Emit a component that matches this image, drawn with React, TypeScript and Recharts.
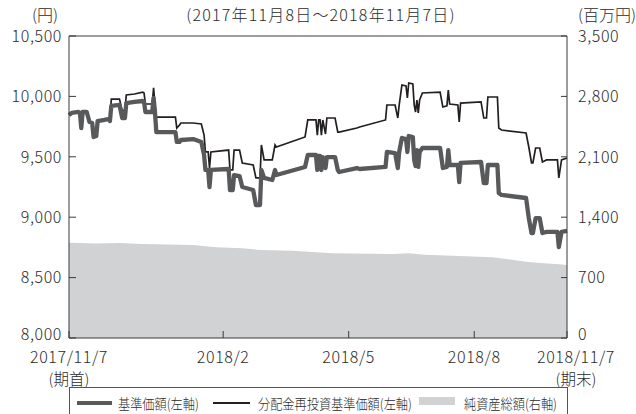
import React from 'react';
import { ComposedChart, Line, Area, XAxis, YAxis, ReferenceLine } from 'recharts';

// trading-day positions (calendar days since 2017/11/7)
const days = [
  0, 2, 7, 8, 9, 10, 13, 15, 17, 18,
  20, 21, 26, 29, 30, 31, 37, 39, 41, 42,
  48, 54, 55, 56, 61, 62, 63, 64, 78, 79,
  81, 82, 91, 97, 99, 100, 102, 103, 104, 117,
  118, 120, 121, 125, 127, 135, 137, 140, 141, 143,
  149, 151, 152, 173, 175, 181, 182, 183, 184, 185,
  186, 188, 189, 195, 197, 198, 211, 213, 232, 233,
  239, 241, 242, 244, 247, 248, 249, 252, 253, 254,
  255, 256, 257, 259, 272, 274, 277, 278, 279, 285,
  286, 287, 302, 304, 306, 307, 314, 315, 317, 335,
  337, 339, 340, 342, 345, 347, 350, 358, 359, 361,
  365,
];

// 基準価額 (円)
const navValues = [
  9846, 9863, 9871, 9863, 9738, 9871, 9871, 9788, 9780, 9664,
  9672, 9796, 9805, 9813, 9796, 9921, 9929, 9821, 9821, 9945,
  9954, 9962, 9954, 9871, 9871, 9987, 9871, 9705, 9705, 9623,
  9623, 9639, 9647, 9623, 9515, 9391, 9391, 9250, 9391, 9399,
  9225, 9225, 9349, 9341, 9250, 9225, 9101, 9101, 9391, 9325,
  9308, 9391, 9349, 9416, 9515, 9515, 9391, 9507, 9507, 9391,
  9498, 9407, 9498, 9498, 9391, 9374, 9407, 9399, 9416, 9540,
  9531, 9407, 9540, 9656, 9647, 9540, 9672, 9664, 9474, 9424,
  9556, 9416, 9540, 9573, 9573, 9407, 9416, 9556, 9432, 9432,
  9291, 9449, 9457, 9283, 9283, 9432, 9432, 9200, 9184, 9159,
  8993, 8869, 8869, 8993, 8993, 8869, 8878, 8878, 8753, 8878,
  8886,
];

// 分配金再投資基準価額 (円)
const reinvestValues = [
  9846, 9863, 9871, 9863, 9738, 9871, 9871, 9788, 9780, 9664,
  9672, 9796, 9805, 9813, 9796, 9978, 9978, 9879, 9887, 10012,
  10020, 10036, 10028, 9937, 9937, 10070, 9937, 9829, 9829, 9738,
  9763, 9780, 9780, 9772, 9680, 9540, 9540, 9407, 9540, 9556,
  9391, 9391, 9556, 9556, 9449, 9432, 9325, 9325, 9598, 9474,
  9474, 9598, 9581, 9664, 9805, 9805, 9680, 9805, 9805, 9680,
  9805, 9689, 9821, 9821, 9705, 9705, 9738, 9747, 9805, 9929,
  9929, 9821, 9929, 10094, 10086, 9987, 10111, 10103, 9929, 9871,
  9970, 9863, 9970, 10028, 10036, 9912, 9921, 10053, 9937, 9929,
  9788, 9945, 9954, 9821, 9821, 9995, 9995, 9738, 9722, 9697,
  9581, 9449, 9449, 9573, 9573, 9457, 9474, 9474, 9325, 9474,
  9490,
];

// 純資産総額 (百万円)
const assetDays = [0, 8, 18, 37, 54, 91, 108, 127, 140, 164, 193, 237, 249, 261, 286, 310, 322, 335, 348, 359, 365];
const assetValues = [1105, 1100, 1095, 1100, 1089, 1078, 1051, 1040, 1020, 1012, 982, 973, 982, 965, 950, 935, 912, 884, 865, 854, 846];

const xTickDays = [0, 113, 205, 297, 365];
const xTickLabels = ['2017/11/7', '2018/2', '2018/5', '2018/8', '2018/11/7'];
const xTickSubLabels = ['(期首)', '', '', '', '(期末)'];
const leftTicks = [8000, 8500, 9000, 9500, 10000, 10500];
const rightTicks = [0, 700, 1400, 2100, 2800, 3500];

const mainData = days.map((d, i) => ({ d, nav: navValues[i], reinvest: reinvestValues[i] }));
const assetData = assetDays.map((d, i) => ({ d, assets: assetValues[i] }));

const FONT = '"Noto Sans CJK JP", "Noto Sans", sans-serif';
const TEXT = '#2b2b2b';
const AXIS = '#3a3a3a';
const NAV_COLOR = '#58595b';
const REINV_COLOR = '#231f20';
const AREA_COLOR = '#d1d2d4';
const WEIGHT = 300;

const fmt = (v: number) => v.toLocaleString('en-US');

const LeftTick = (props: any) => {
  const { x, y, payload } = props;
  const lift = payload.value === leftTicks[0] ? -4 : 0;
  return (
    <g>
      <line x1={x} x2={x + 7} y1={y} y2={y} stroke={AXIS} strokeWidth={1} />
      <text x={x - 7} y={y + lift} dy="0.36em" textAnchor="end" fontSize={16} fontWeight={WEIGHT} fill={TEXT} fontFamily={FONT} letterSpacing={0.6}>
        {fmt(payload.value)}
      </text>
    </g>
  );
};

const RightTick = (props: any) => {
  const { x, y, payload } = props;
  const lift = payload.value === rightTicks[0] ? -4 : 0;
  return (
    <g>
      <line x1={x - 6} x2={x} y1={y} y2={y} stroke={AXIS} strokeWidth={1} />
      <text x={x + 11} y={y + lift} dy="0.36em" textAnchor="start" fontSize={16} fontWeight={WEIGHT} fill={TEXT} fontFamily={FONT} letterSpacing={0.6}>
        {fmt(payload.value)}
      </text>
    </g>
  );
};

const BottomTick = (props: any) => {
  const { x, y, payload } = props;
  const i = xTickDays.indexOf(payload.value);
  const dx = i === xTickDays.length - 1 ? 9 : 0;
  return (
    <g>
      <line x1={x} x2={x} y1={y} y2={y - 7} stroke={AXIS} strokeWidth={1} />
      <text x={x + dx} y={y + 25} textAnchor="middle" fontSize={16} fontWeight={WEIGHT} fill={TEXT} fontFamily={FONT} letterSpacing={0.6}>
        {xTickLabels[i]}
      </text>
      {xTickSubLabels[i] ? (
        <text x={x + dx} y={y + 47} textAnchor="middle" fontSize={15.5} fontWeight={WEIGHT} fill={TEXT} fontFamily={FONT}>
          {xTickSubLabels[i]}
        </text>
      ) : null}
    </g>
  );
};

const abs = (left: number, top: number, extra: React.CSSProperties = {}): React.CSSProperties => ({
  position: 'absolute',
  left,
  top,
  whiteSpace: 'nowrap',
  fontFamily: FONT,
  fontWeight: WEIGHT,
  color: TEXT,
  ...extra,
});

const legendText = (left: number): React.CSSProperties =>
  abs(left, 393, { fontSize: 14, lineHeight: '20px', transform: 'scaleX(0.87)', transformOrigin: 'left center' });

export default function App() {
  return (
    <div style={{ position: 'absolute', left: 0, top: 0, width: 636, height: 414, background: '#fff', overflow: 'hidden' }}>
      <ComposedChart width={636} height={414} data={mainData} margin={{ top: 36, right: 0, bottom: 0, left: 0 }}>
        <XAxis
          dataKey="d"
          type="number"
          domain={[0, 365]}
          ticks={xTickDays}
          interval={0}
          height={76}
          axisLine={{ stroke: AXIS, strokeWidth: 1 }}
          tickLine={false}
          tickSize={0}
          tickMargin={0}
          tick={<BottomTick />}
        />
        <YAxis
          yAxisId="left"
          orientation="left"
          domain={[8000, 10500]}
          ticks={leftTicks}
          interval={0}
          width={69}
          axisLine={{ stroke: AXIS, strokeWidth: 1 }}
          tickLine={false}
          tickSize={0}
          tickMargin={0}
          tick={<LeftTick />}
        />
        <YAxis
          yAxisId="right"
          orientation="right"
          domain={[0, 3500]}
          ticks={rightTicks}
          interval={0}
          width={69}
          axisLine={{ stroke: AXIS, strokeWidth: 1 }}
          tickLine={false}
          tickSize={0}
          tickMargin={0}
          tick={<RightTick />}
        />
        <Area
          yAxisId="right"
          data={assetData}
          dataKey="assets"
          type="linear"
          stroke="none"
          fill={AREA_COLOR}
          fillOpacity={1}
          isAnimationActive={false}
        />
        <Line
          yAxisId="left"
          dataKey="reinvest"
          type="linear"
          stroke={REINV_COLOR}
          strokeWidth={1.7}
          dot={false}
          activeDot={false}
          isAnimationActive={false}
        />
        <Line
          yAxisId="left"
          dataKey="nav"
          type="linear"
          stroke={NAV_COLOR}
          strokeWidth={4.3}
          strokeLinejoin="round"
          dot={false}
          activeDot={false}
          isAnimationActive={false}
        />
        <ReferenceLine yAxisId="left" y={10500} stroke={AXIS} strokeWidth={1} />
      </ComposedChart>

      <div style={abs(45, 6, { fontSize: 16, lineHeight: '16px', transform: 'translateX(-50%)' })}>(円)</div>
      <div style={abs(321, 6, { fontSize: 16, lineHeight: '16px', transform: 'translateX(-50%)', letterSpacing: 1.2 })}>
        (2017年11月8日～2018年11月7日)
      </div>
      <div style={abs(578, 6, { fontSize: 16, lineHeight: '16px' })}>(百万円)</div>

      <div
        style={{
          position: 'absolute',
          left: 69,
          top: 387,
          width: 497,
          height: 40,
          borderTop: '1px solid #555',
          borderLeft: '1px solid #555',
          borderRight: '1px solid #555',
        }}
      />
      <div style={{ position: 'absolute', left: 77, top: 401, width: 35, height: 4, background: NAV_COLOR }} />
      <div style={legendText(118)}>基準価額(左軸)</div>
      <div style={{ position: 'absolute', left: 213, top: 402, width: 37, height: 2, background: REINV_COLOR }} />
      <div style={legendText(258)}>分配金再投資基準価額(左軸)</div>
      <div style={{ position: 'absolute', left: 419, top: 397, width: 36, height: 8, background: AREA_COLOR }} />
      <div style={legendText(464)}>純資産総額(右軸)</div>
    </div>
  );
}
